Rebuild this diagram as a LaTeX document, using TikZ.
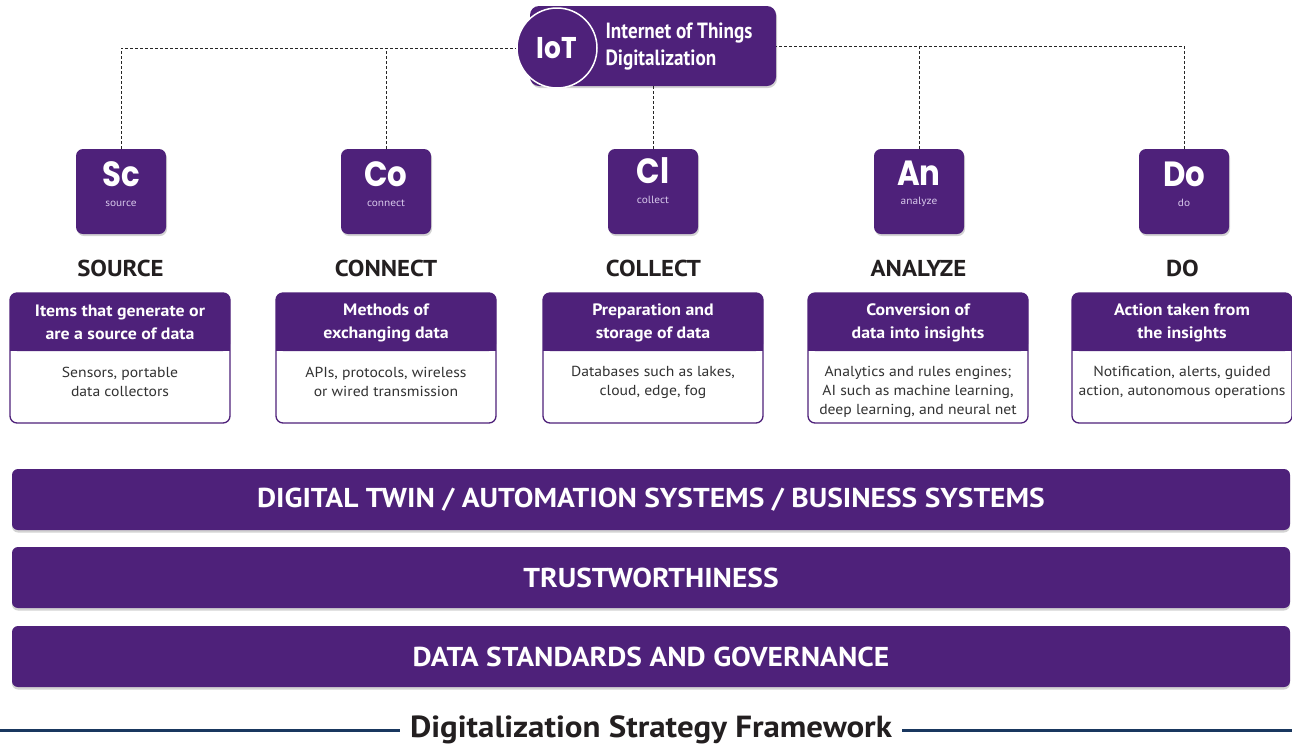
\documentclass[tikz,border=0pt]{standalone}
\usepackage{fontspec}
\setmainfont[FakeStretch=1.08]{PT Sans}
\newfontfamily\condfont[FakeStretch=0.87]{PT Sans}
\newfontfamily\geofont[FakeStretch=0.88]{Poppins}
\usetikzlibrary{shadows}
\definecolor{pur}{RGB}{78,33,122}
\definecolor{txtdark}{RGB}{35,31,32}
\definecolor{bodygray}{RGB}{50,50,50}
\definecolor{navy}{RGB}{25,55,95}
\definecolor{lbl}{RGB}{215,200,235}
\begin{document}
\begin{tikzpicture}[x=1pt,y=-1pt,
  elem/.style={fill=pur, rounded corners=7pt, minimum width=90pt, minimum height=85pt, inner sep=0pt,
     drop shadow={opacity=0.35, shadow xshift=1pt, shadow yshift=-2pt}},
  sym/.style={text=white, font=\geofont\bfseries\fontsize{35}{35}\selectfont, anchor=base, inner sep=0pt},
  symlbl/.style={text=lbl, font=\fontsize{10.5}{11}\selectfont, anchor=base, inner sep=0.5pt},
  sect/.style={text=txtdark, font=\bfseries\fontsize{23}{26}\selectfont, anchor=base},
  hdrtxt/.style={text=white, font=\bfseries\fontsize{16.5}{23}\selectfont, align=center},
  bodytxt/.style={text=bodygray, font=\fontsize{14.5}{19}\selectfont, align=center},
  bar/.style={fill=pur, rounded corners=6pt, minimum width=1278pt, minimum height=61pt, inner sep=0pt,
     text=white, font=\bfseries\fontsize{27.3}{30}\selectfont,
     drop shadow={opacity=0.35, shadow xshift=0pt, shadow yshift=-2.5pt}},
  dashline/.style={draw=black!85, line width=0.8pt, dash pattern=on 3pt off 2pt}
]
\useasboundingbox (0,0) rectangle (1292,748);

% ---------- IoT header ----------
\node[fill=pur, rounded corners=9pt, minimum width=246pt, minimum height=80pt, inner sep=0pt,
      drop shadow={opacity=0.35, shadow xshift=1pt, shadow yshift=-2pt}] (iot) at (653,46) {};
\node[circle, fill=pur, draw=white, line width=1.5pt, minimum size=80pt, inner sep=0pt] (iotc) at (557,48) {};
\node[text=white, font=\geofont\bfseries\fontsize{30}{30}\selectfont] (iotlbl) at (557,48) {IoT};
\node[text=white, font=\condfont\bfseries\fontsize{22}{27}\selectfont, align=left, anchor=west] (iottxt) at (602,47)
  {Internet of Things\\Digitalization};

% ---------- element boxes ----------
\node[elem] (sc) at (121,191.5) {};
\node[elem] (co) at (386,191.5) {};
\node[elem] (cl) at (653,191.5) {};
\node[elem] (an) at (919,191.5) {};
\node[elem] (do) at (1184,191.5) {};

\node[sym] (scs) at (121,186) {Sc};
\node[symlbl] (scl) at (121,206) {source};
\node[sym] (cos) at (386,186) {Co};
\node[symlbl] (col) at (386,206) {connect};
\node[sym] (cls) at (653,183) {Cl};
\node[symlbl] (cll) at (653,203) {collect};
\node[sym] (ans) at (919,185) {An};
\node[symlbl] (anl) at (919,204) {analyze};
\node[sym] (dos) at (1184,186) {Do};
\node[symlbl] (dol) at (1184,206) {do};

% ---------- dashed connectors ----------
\draw[dashline] (sc.north) |- (iotc.west);
\draw[dashline] (co.north) -- (co.north |- iotc.west);
\draw[dashline] (do.north) |- (iot.east);
\draw[dashline] (an.north) -- (an.north |- iot.east);
\draw[dashline] (iot.south -| cl.north) -- (cl.north);

% ---------- section titles ----------
\node[sect] (t1) at (120.5,276) {SOURCE};
\node[sect] (t2) at (386,276) {CONNECT};
\node[sect] (t3) at (653.5,276) {COLLECT};
\node[sect] (t4) at (918.5,276) {ANALYZE};
\node[sect] (t5) at (1182.5,276) {DO};

% ---------- cards ----------
\foreach \x/\n in {10/c1, 276/c2, 543/c3, 808/c4, 1072/c5}{
  \fill[white, rounded corners=7pt] (\x,293) rectangle ++(220,130);
  \fill[pur, rounded corners=7pt] (\x,293) rectangle ++(220,58);
  \fill[pur] (\x,341) rectangle ++(220,10);
  \draw[pur, line width=1.3pt, rounded corners=7pt] (\x,293) rectangle ++(220,130);
}
\node[hdrtxt] (h1) at (120,322.5) {Items that generate or\\are a source of data};
\node[hdrtxt] (h2) at (386,322.5) {Methods of\\exchanging data};
\node[hdrtxt] (h3) at (653,322.5) {Preparation and\\storage of data};
\node[hdrtxt] (h4) at (918,322.5) {Conversion of\\data into insights};
\node[hdrtxt] (h5) at (1182,322.5) {Action taken from\\the insights};

\node[bodytxt] (b1) at (120,382) {Sensors, portable\\data collectors};
\node[bodytxt] (b2) at (386,382) {APIs, protocols, wireless\\or wired transmission};
\node[bodytxt] (b3) at (653,382) {Databases such as lakes,\\cloud, edge, fog};
\node[bodytxt] (b4) at (918,391.5) {Analytics and rules engines;\\AI such as machine learning,\\deep learning, and neural net};
\node[bodytxt] (b5) at (1182,382) {Notification, alerts, guided\\action, autonomous operations};

% ---------- bars ----------
\node[bar] (bar1) at (651,499.5) {DIGITAL TWIN / AUTOMATION SYSTEMS / BUSINESS SYSTEMS};
\node[bar] (bar2) at (651,577.5) {TRUSTWORTHINESS};
\node[bar] (bar3) at (651,656.5) {DATA STANDARDS AND GOVERNANCE};

% ---------- footer ----------
\node[text=txtdark, font=\bfseries\fontsize{30.5}{32}\selectfont, inner xsep=10pt] (foot) at (651,730) {Digitalization Strategy Framework};
\coordinate (fl) at (0,730);
\coordinate (fr) at (1292,730);
\draw[navy, line width=3pt] (fl) -- (fl -| foot.west);
\draw[navy, line width=3pt] (foot.east |- fr) -- (fr);
\end{tikzpicture}
\end{document}
